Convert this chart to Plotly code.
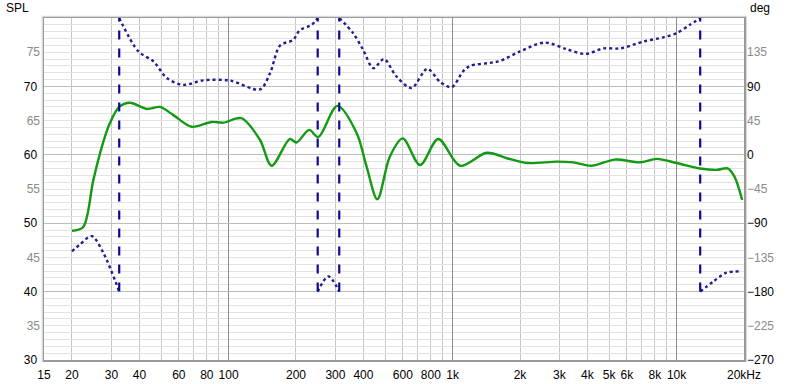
import plotly.graph_objects as go

# ---------------- data ----------------
spl_freq = [20, 22.4, 24.9, 27.2, 29.5, 32.5, 36.3, 43.3, 49.4, 56.7, 68.4, 84, 95, 114,
            138, 155.7, 187.6, 201, 229, 251.6, 306, 373, 413, 461.5, 525, 599, 716, 863,
            1081, 1421, 1748, 2150, 2910, 3450, 4190, 5300, 6870, 8150, 10000, 12750,
            15100, 16900, 18130, 19630]
spl_db = [48.9, 49.4, 56.3, 61.2, 64.6, 67.0, 67.6, 66.7, 67.0, 65.8, 64.1, 64.8, 64.7, 65.35,
          62.2, 58.4, 62.3, 61.8, 63.65, 62.6, 67.15, 63.2, 58.3, 53.5, 59.75, 62.4, 58.5, 62.3,
          58.4, 60.3, 59.5, 58.8, 59.0, 58.9, 58.4, 59.3, 58.9, 59.4, 58.8, 58.0,
          57.8, 58.0, 56.8, 53.4]

# phase, wrapped to +-180 deg; None separates the wrapped segments
phase_freq = [20, 21.7, 24.5, 27.6, 32.5, None,
              32.5, 39.6, 46.2, 53, 62.8, 77, 101.6, 138, 153, 170, 194, 208, 235, 250, None,
              250, 279, 312, None,
              312, 360, 399, 443, 494, 562, 656, 771, 879, 991, 1116, 1199, 1473, 1630, 2000,
              2580, 3228, 3912, 4722, 5592, 7112, 8730, 10000, 11460, 12750, None,
              12750, 14640, 16620, 19430]
phase_deg = [-127, -118, -107, -129, -180, None,
             180, 136, 123, 101, 92, 98, 97.6, 86, 107, 144, 151, 164, 171, 180, None,
             -180, -160, -180, None,
             180, 160, 138, 114, 126, 103, 88, 113, 96, 89, 110, 117, 121, 123.5, 136,
             147.6, 139, 132.7, 140, 140, 149, 154.6, 160, 171, 180, None,
             -180, -166.5, -155.4, -153.3]

wrap_freq = [32.5, 250, 312, 12750]

x_tick_vals = [15, 20, 30, 40, 60, 80, 100, 200, 300, 400, 600, 800, 1000, 2000, 3000,
               4000, 5000, 6000, 8000, 10000, 20000]
x_tick_text = ["15", "20", "30", "40", "60", "80", "100", "200", "300", "400", "600", "800",
               "1k", "2k", "3k", "4k", "5k", "6k", "8k", "10k", "20kHz"]
x_decades = [100, 1000, 10000]
x_minor = [20, 30, 40, 50, 60, 70, 80, 90, 200, 300, 400, 500, 600, 700, 800, 900,
           2000, 3000, 4000, 5000, 6000, 7000, 8000, 9000]

spl_major = [30, 40, 50, 60, 70, 80]
spl_major_text = ["30", "40", "50", "60", "70", ""]
spl_half = [35, 45, 55, 65, 75]
deg_major = [-270, -180, -90, 0, 90]
deg_half = [-225, -135, -45, 45, 135]

# ---------------- figure ----------------
FONT = "Liberation Sans, Arial, sans-serif"
xr = [1.176091, 4.30103]

wx, wy = [], []
for f in wrap_freq:
    wx += [f, f, None]
    wy += [-180, 180, None]

fig = go.Figure()
fig.add_trace(go.Scatter(x=spl_freq, y=spl_db, mode="lines", line=dict(color="#139a13", width=2.4, shape="spline", smoothing=0.9),
                         xaxis="x", yaxis="y", hoverinfo="skip", showlegend=False))
fig.add_trace(go.Scatter(x=phase_freq, y=phase_deg, mode="lines", connectgaps=False,
                         line=dict(color="#1f1f8f", width=2.4, dash="dot", shape="spline", smoothing=0.9),
                         xaxis="x", yaxis="y3", hoverinfo="skip", showlegend=False))
fig.add_trace(go.Scatter(x=wx, y=wy, mode="lines", line=dict(color="#0a0a96", width=2.2, dash="dash"),
                         xaxis="x", yaxis="y3", hoverinfo="skip", showlegend=False))
# empty traces so the label-only overlay axes get drawn
for xa, ya in [("x2", "y"), ("x", "y2"), ("x", "y4")]:
    fig.add_trace(go.Scatter(x=[None], y=[None], xaxis=xa, yaxis=ya, showlegend=False, hoverinfo="skip"))

tickfont_k = dict(family=FONT, size=12, color="#000000")
tickfont_g = dict(family=FONT, size=12, color="#8a8a8a")

fig.update_layout(
    width=800, height=384,
    margin=dict(l=44, r=56, t=18, b=24, autoexpand=False),
    paper_bgcolor="white", plot_bgcolor="white",
    xaxis=dict(type="log", range=xr, tickmode="array", tickvals=x_decades, showticklabels=False,
               showgrid=True, gridcolor="#8c8c8c", gridwidth=1, ticks="", zeroline=False, automargin=False,
               showline=True, linecolor="#9a9a9a", linewidth=1.5, mirror=True,
               minor=dict(tickmode="array", tickvals=x_minor, showgrid=True, gridcolor="#c6c6c6", gridwidth=1, ticks="")),
    xaxis2=dict(type="log", range=xr, overlaying="x", anchor="y", side="bottom", tickmode="array",
                tickvals=x_tick_vals, ticktext=x_tick_text, showgrid=False, ticks="", zeroline=False,
                tickfont=tickfont_k, showline=False, automargin=False, ticklabelstandoff=6),
    yaxis=dict(range=[30, 80], tickmode="array", tickvals=spl_major, ticktext=spl_major_text,
               showgrid=True, gridcolor="#bdbdbd", gridwidth=1, ticks="", zeroline=False, automargin=False,
               tickfont=tickfont_k, showline=True, linecolor="#9a9a9a", linewidth=1.5, mirror=True,
               ticklabelstandoff=3,
               minor=dict(dtick=1, tick0=30, showgrid=True, gridcolor="#e3e3e3", gridwidth=1, ticks="")),
    yaxis2=dict(range=[30, 80], overlaying="y", anchor="x", side="left", tickmode="array", automargin=False,
                tickvals=spl_half, showgrid=False, ticks="", zeroline=False, tickfont=tickfont_g, ticklabelstandoff=3),
    yaxis3=dict(range=[-270, 180], overlaying="y", anchor="x", side="right", tickmode="array", automargin=False,
                tickvals=deg_major, showgrid=False, ticks="", zeroline=False, tickfont=tickfont_k, ticklabelstandoff=2),
    yaxis4=dict(range=[-270, 180], overlaying="y", anchor="x", side="right", tickmode="array", automargin=False,
                tickvals=deg_half, showgrid=False, ticks="", zeroline=False, tickfont=tickfont_g, ticklabelstandoff=2),
    annotations=[
        dict(text="SPL", xref="paper", yref="paper", x=-0.038, y=1.0, yshift=10, xanchor="center", yanchor="middle",
             showarrow=False, font=dict(family=FONT, size=12, color="#000")),
        dict(text="deg", xref="paper", yref="paper", x=1.0, y=1.0, xshift=4, yshift=10, xanchor="left", yanchor="middle",
             showarrow=False, font=dict(family=FONT, size=12, color="#000")),
    ],
    shapes=[dict(type="rect", xref="paper", yref="paper", x0=-0.002, x1=1.003, y0=-0.003, y1=1.004,
                 line=dict(color="#d9d9d9", width=2), layer="below")],
)

fig.write_html("out.html", config={"displayModeBar": False, "staticPlot": True},
               post_script="document.body.style.margin='0';document.body.style.overflow='hidden';")
